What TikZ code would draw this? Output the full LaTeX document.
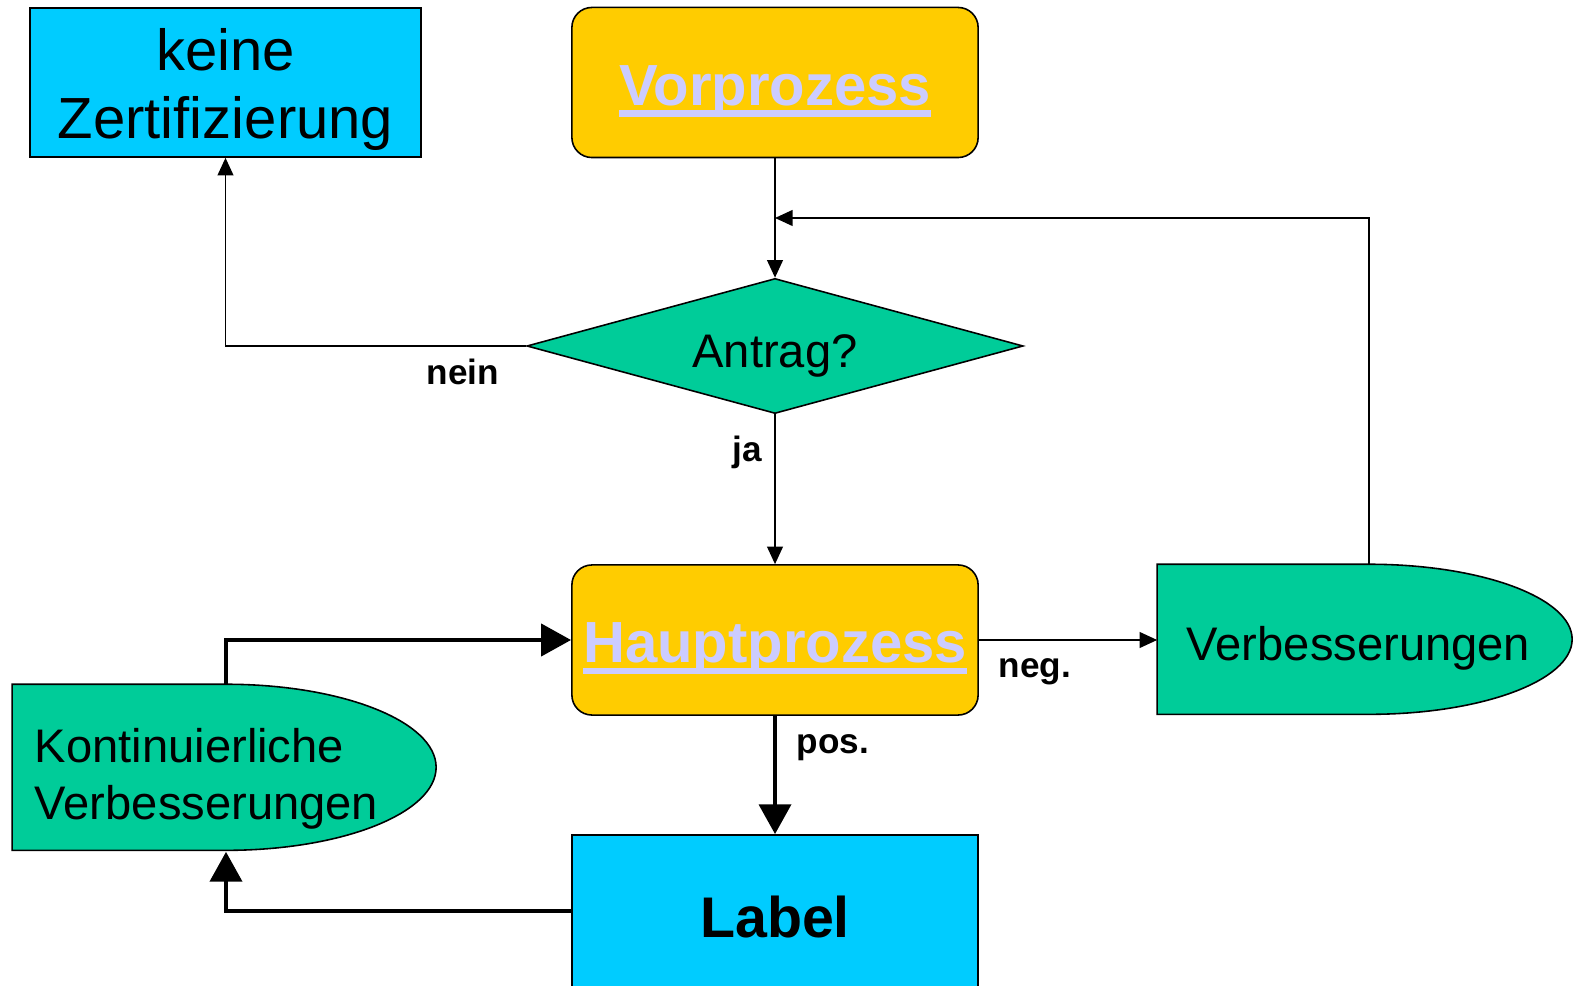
\documentclass[tikz,border=0pt]{standalone}
\usepackage{fontspec}
\setmainfont{Liberation Sans}
\usetikzlibrary{arrows.meta,shapes.geometric,backgrounds}
\definecolor{boxcyan}{HTML}{00CCFF}
\definecolor{boxyellow}{HTML}{FFCC00}
\definecolor{boxgreen}{HTML}{00CC99}
\definecolor{linktext}{HTML}{CCCCFF}
\newcommand{\linktxt}[1]{\setbox0\hbox{#1}\rlap{\rule[-0.2em]{\wd0}{0.11em}}\box0}
\begin{document}
\begin{tikzpicture}[x=0.01cm,y=-0.01cm,
  every node/.style={inner sep=0pt},
  bigfont/.style={font=\fontsize{16.5}{19.3}\selectfont},
  midfont/.style={font=\fontsize{13.4}{16.3}\selectfont},
  lbl/.style={font=\fontsize{10}{12}\selectfont\bfseries},
  endbox/.style={draw, line width=0.45pt, fill=boxcyan, minimum width=3.91cm, minimum height=1.49cm, align=center},
  proc/.style={draw, line width=0.45pt, fill=boxyellow, rounded corners=0.2cm, minimum width=4.06cm, minimum height=1.5cm,
    text height=0.75cm, text depth=0.3cm, font=\fontsize{16.5}{19.3}\selectfont\bfseries, text=linktext},
  delaybox/.style={minimum height=1.5cm, align=left, midfont},
  delayline/.style={draw, line width=0.45pt, fill=boxgreen},
  thinarrow/.style={line width=0.45pt, -{Triangle[length=5pt,width=4.5pt]}},
  thickarrow/.style={line width=1.4pt, -{Triangle[length=8.5pt,width=9pt]}}
]
\useasboundingbox (0,0) rectangle (1574,986);
\begin{scope}
\clip (0,0) rectangle (1574,986);

\node[endbox, bigfont] (keine) at (225.5,82.5) {\rule{0pt}{0.56cm}keine\\Zertifizierung};
\node[proc] (vor) at (775,82.5) {\linktxt{Vorprozess}};
\node[draw, line width=0.45pt, fill=boxgreen, diamond, aspect=3.67, minimum width=4.96cm, minimum height=1.35cm,
  text height=0.5cm, text depth=0.08cm, midfont] (antrag) at (775,346) {Antrag?};
\node[proc] (haupt) at (775,640) {\linktxt{Hauptprozess}};
\node[delaybox, minimum width=4.22cm, text width=3.64cm, inner xsep=0.29cm, text height=0.55cm, text depth=0.15cm] (verb) at (1369,640) {Verbesserungen};
\node[delaybox, minimum width=4.24cm, minimum height=1.66cm, text width=3.82cm, inner xsep=0.22cm] (kont) at (226,768) {\rule{0pt}{0.56cm}Kontinuierliche\\Verbesserungen};
\node[endbox, minimum width=4.06cm, minimum height=1.52cm, text height=0.8cm, text depth=0.28cm,
  font=\fontsize{16.3}{19}\selectfont\bfseries] (label) at (775,911) {Label};

\begin{pgfonlayer}{background}
\draw[delayline] (verb.north west) -- (verb.north) arc[start angle=90, end angle=-90, x radius=2.03cm, y radius=0.75cm] -| (verb.west) -- cycle;
\draw[delayline] (kont.north west) -- (kont.north) arc[start angle=90, end angle=-90, x radius=2.1cm, y radius=0.83cm] -| (kont.west) -- cycle;
\end{pgfonlayer}

\coordinate (back) at (775,218);

\draw[thinarrow] (vor.south) -- (antrag.north);
\draw[thinarrow] (verb.north) |- (back);
\draw[thinarrow] (antrag.west) -| (keine.south);
\draw[thinarrow] (antrag.south) -- (haupt.north);
\draw[thinarrow] (haupt.east) -- (verb.west);
\draw[thickarrow] (haupt.south) -- (label.north);
\draw[thickarrow] (label.west) -| (kont.south);
\draw[thickarrow] (kont.north) |- (haupt.west);

\node[lbl] (nein) at (463,372) {nein};
\node[lbl] (ja) at (747,452) {ja};
\node[lbl] (neg) at (1035,672) {neg.};
\node[lbl] (pos) at (833,748) {pos.};
\end{scope}
\end{tikzpicture}
\end{document}
